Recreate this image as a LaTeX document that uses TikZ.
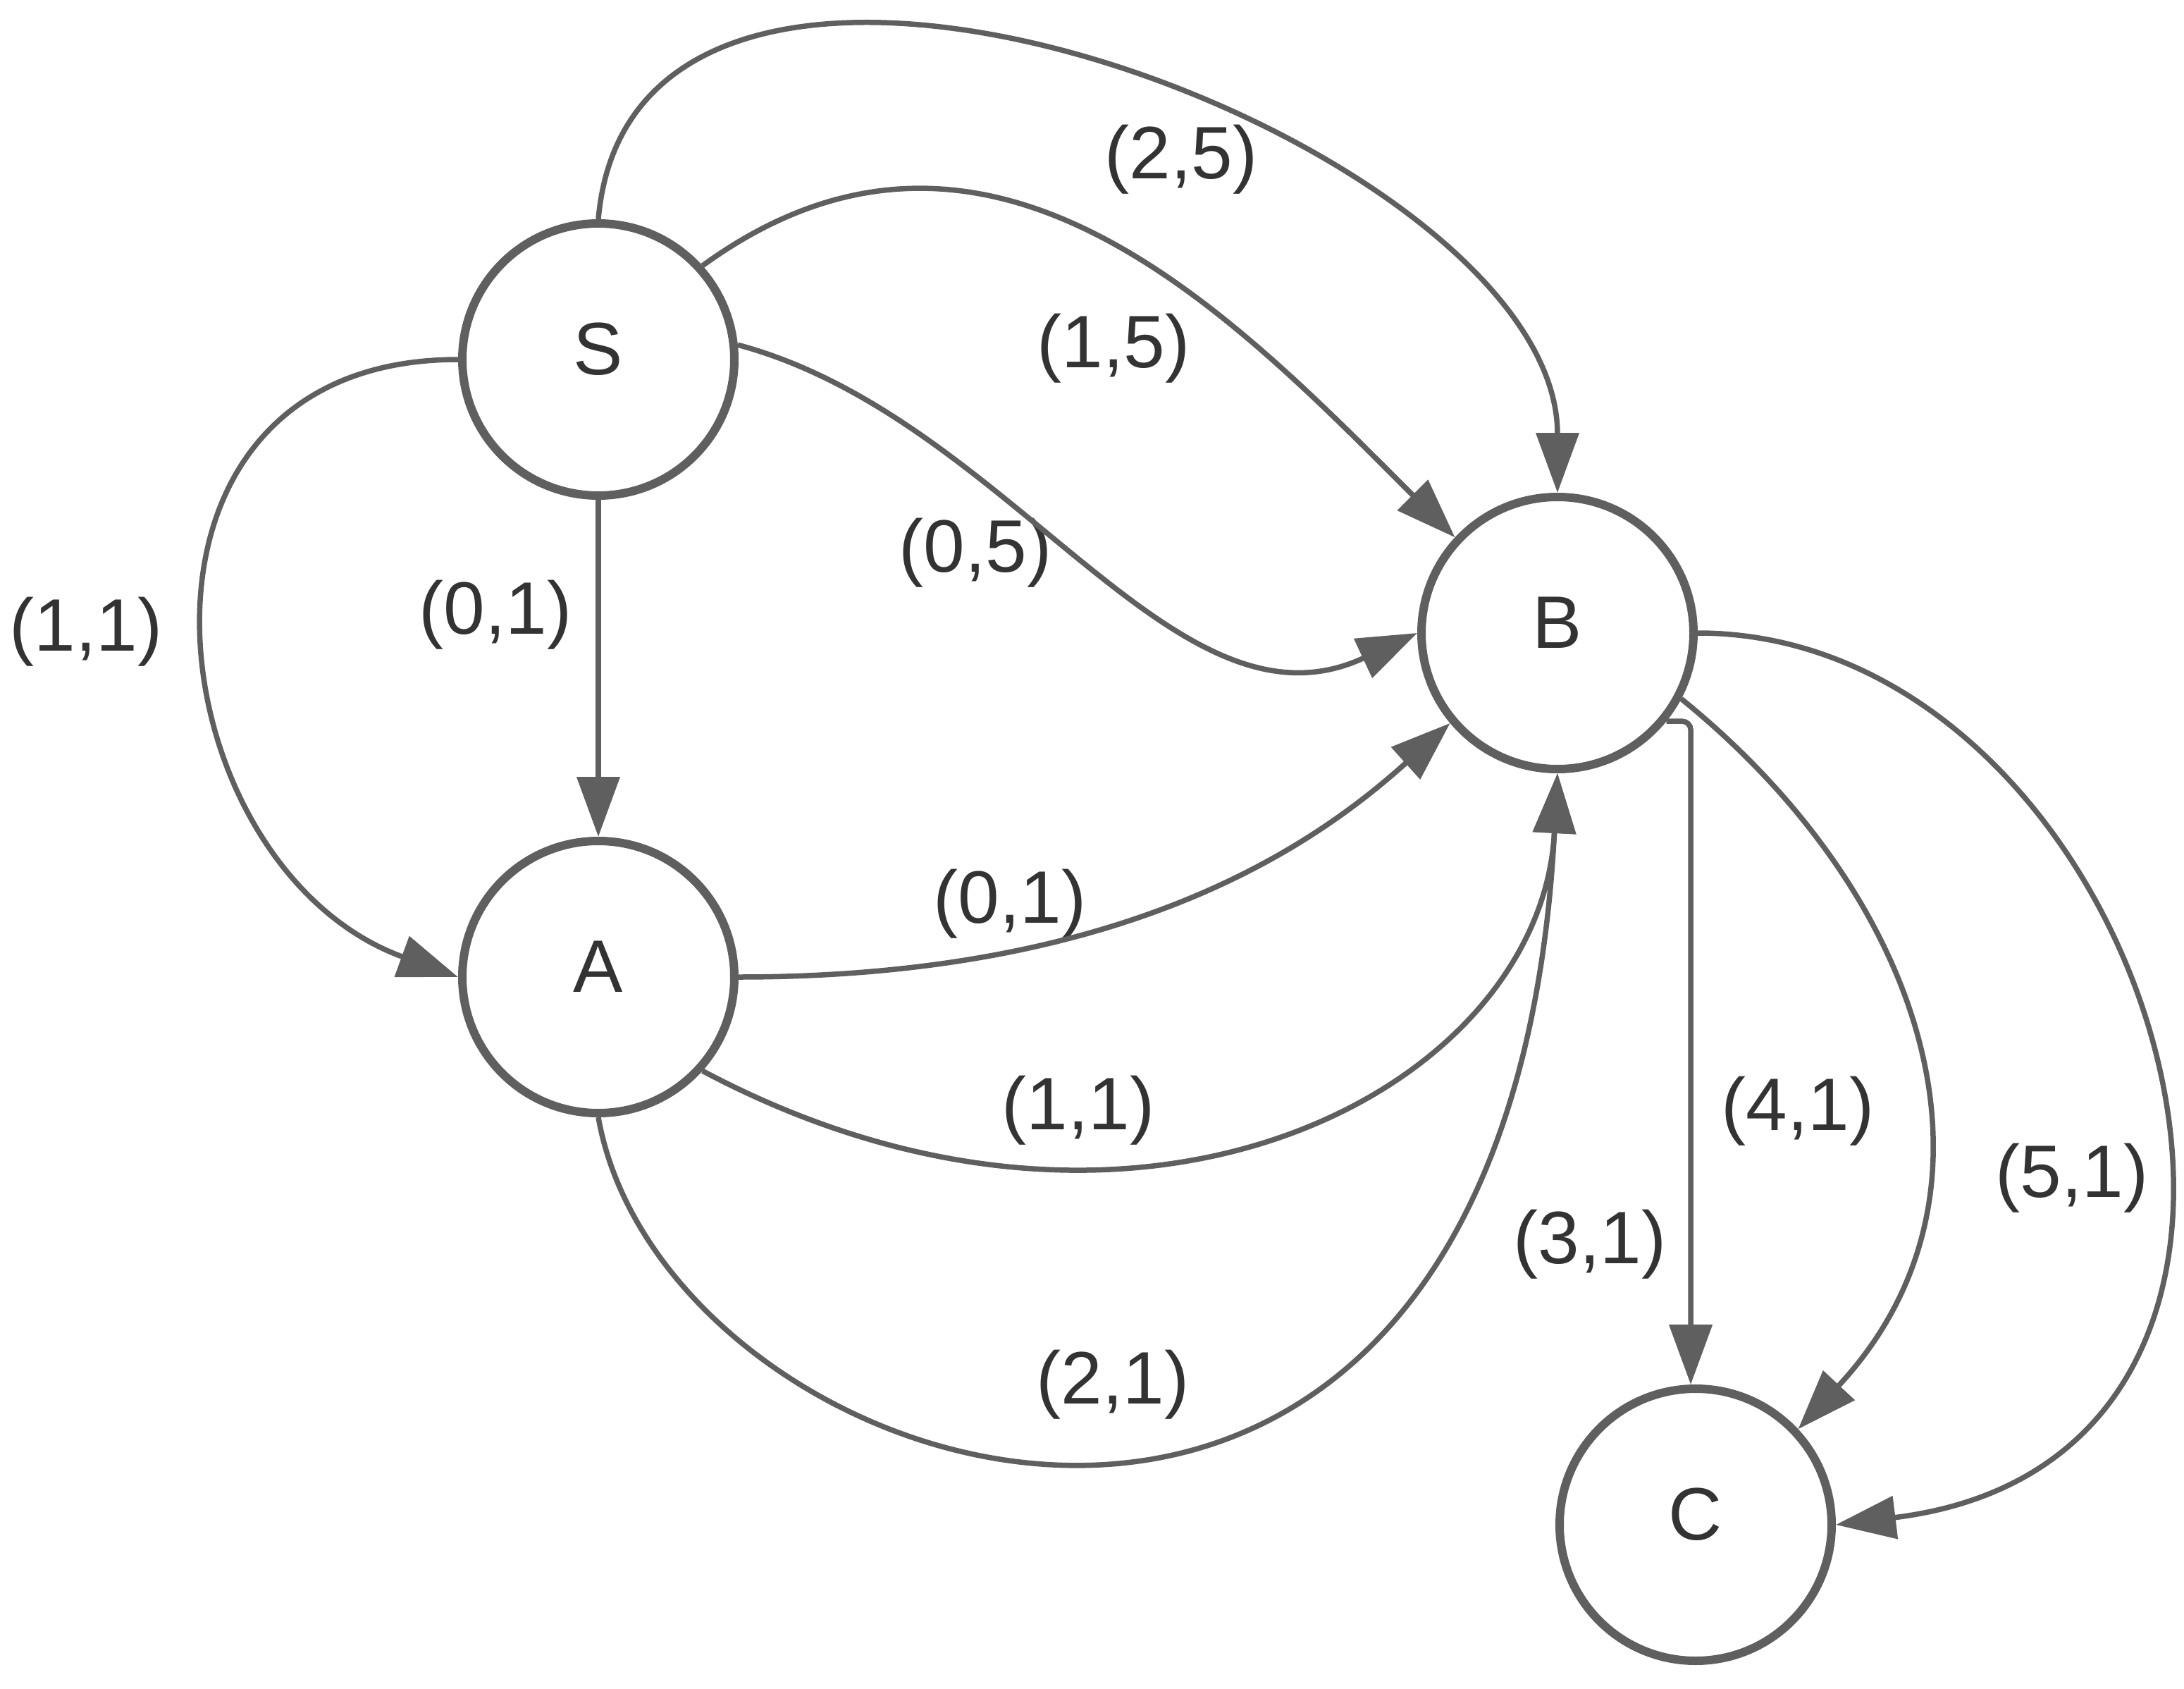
\documentclass[tikz,border=0pt]{standalone}
\usepackage{fontspec}
\setmainfont{Liberation Sans}
\usetikzlibrary{arrows.meta}
\definecolor{linegray}{HTML}{5F5F5F}
\definecolor{textgray}{HTML}{333333}
\tikzset{
  state/.style={shape=circle,draw=linegray,line width=0.12cm,minimum size=3.86cm,
    inner sep=0pt,text depth=0.3cm,text=textgray,font=\fontsize{30}{36}\selectfont},
  lbl/.style={text=textgray,inner sep=0pt,font=\fontsize{30}{36}\selectfont},
  edge/.style={draw=linegray,line width=0.075cm,-{Triangle[length=0.85cm,width=0.6cm]}}
}
\begin{document}
\begin{tikzpicture}
  \useasboundingbox (0,0) rectangle (30.99,-23.96);

  \node[state] (S) at (8.49,-5.10) {S};
  \node[state] (A) at (8.49,-13.86) {A};
  \node[state] (B) at (22.10,-8.98) {B};
  \node[state] (C) at (24.06,-21.63) {C};

  \node[lbl] (lSA1) at (1.22,-8.96) {(1,1)};
  \node[lbl] (lSA0) at (7.03,-8.72) {(0,1)};
  \node[lbl] (lSB0) at (13.84,-7.84) {(0,5)};
  \node[lbl] (lSB1) at (15.80,-4.94) {(1,5)};
  \node[lbl] (lSB2) at (16.76,-2.26) {(2,5)};
  \node[lbl] (lAB0) at (14.33,-12.82) {(0,1)};
  \node[lbl] (lAB1) at (15.30,-15.75) {(1,1)};
  \node[lbl] (lAB2) at (15.79,-19.64) {(2,1)};
  \node[lbl] (lBC3) at (22.56,-17.65) {(3,1)};
  \node[lbl] (lBC4) at (25.51,-15.76) {(4,1)};
  \node[lbl] (lBC5) at (29.40,-16.71) {(5,1)};

  % S to A
  \draw[edge] (S) -- (A);
  \draw[edge] (S.west) .. controls +(180:5.2) and +(160:4.6) .. (A.west);

  % S to B
  \draw[edge] (S.6) .. controls +(-15:4) and +(205:3.8) .. (B.west);
  \draw[edge] (S.42) .. controls +(36:5) and +(135:4.5) .. (B.137);
  \draw[edge] (S.north) .. controls +(85:6) and +(90:5) .. (B.north);

  % A to B
  \draw[edge] (A.east) .. controls +(0:5.5) and +(222:2.6) .. (B.220);
  \draw[edge] (A.318) .. controls +(-28:7) and +(-93:4.5) .. (B.south);
  \draw[edge] (A.south) .. controls +(-80:5.5) and +(-93:14) .. (B.south);

  % B to C
  \draw[edge,rounded corners=0.12cm] (B.-39) -| (C.92);
  \draw[edge] (B.-28) .. controls +(-39:4.5) and +(47:4.6) .. (C.43);
  \draw[edge] (B.east) .. controls +(0:6.5) and +(7:8) .. (C.east);
\end{tikzpicture}
\end{document}
